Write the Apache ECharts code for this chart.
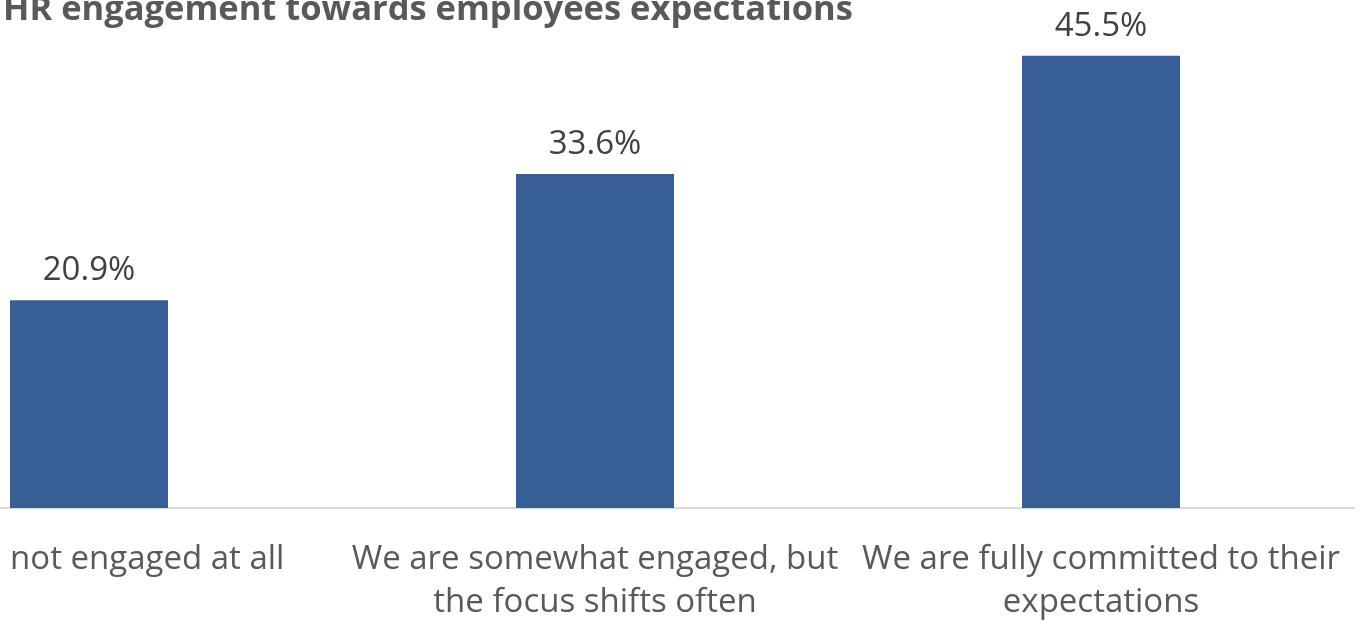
<!DOCTYPE html>
<html><head><meta charset="utf-8">
<script src="https://cdn.jsdelivr.net/npm/echarts@6/dist/echarts.min.js"></script>
<style>html,body{margin:0;padding:0;background:#fff;overflow:hidden}#wrap{width:1362px;height:624px;overflow:hidden;position:relative}#c{width:1526px;height:624px;position:absolute;left:-164px;top:0}</style>
</head><body><div id="wrap"><div id="c"></div></div>
<script>
const titleText = 'HR engagement towards employees expectations';
const categories = ['We are not engaged at all', 'We are somewhat engaged, but\nthe focus shifts often', 'We are fully committed to their\nexpectations'];
const values = [20.9, 33.6, 45.5];

const chart = echarts.init(document.getElementById('c'));
chart.setOption({
  animation: false,
  title: {
    text: titleText, left: 162, top: -12,
    textStyle: {fontFamily: 'Open Sans', fontWeight: 'bold', fontSize: 34.5, color: '#595959'}
  },
  grid: {left: 0, right: 8, top: 11, bottom: 113, containLabel: false},
  xAxis: {
    type: 'category', data: categories,
    axisLine: {lineStyle: {color: '#d9d9d9', width: 2}},
    axisTick: {show: false},
    axisLabel: {fontFamily: 'Open Sans', fontSize: 33, color: '#595959', lineHeight: 43, margin: 30, interval: 0}
  },
  yAxis: {type: 'value', min: 0, max: 50, show: false, splitLine: {show: false}},
  series: [{
    type: 'bar', data: values, barWidth: 158,
    itemStyle: {color: '#375e97'},
    label: {show: true, position: 'top', distance: 13, formatter: p => p.value.toFixed(1) + '%',
      fontFamily: 'Open Sans', fontSize: 33, color: '#404040'}
  }]
});
</script></body></html>
